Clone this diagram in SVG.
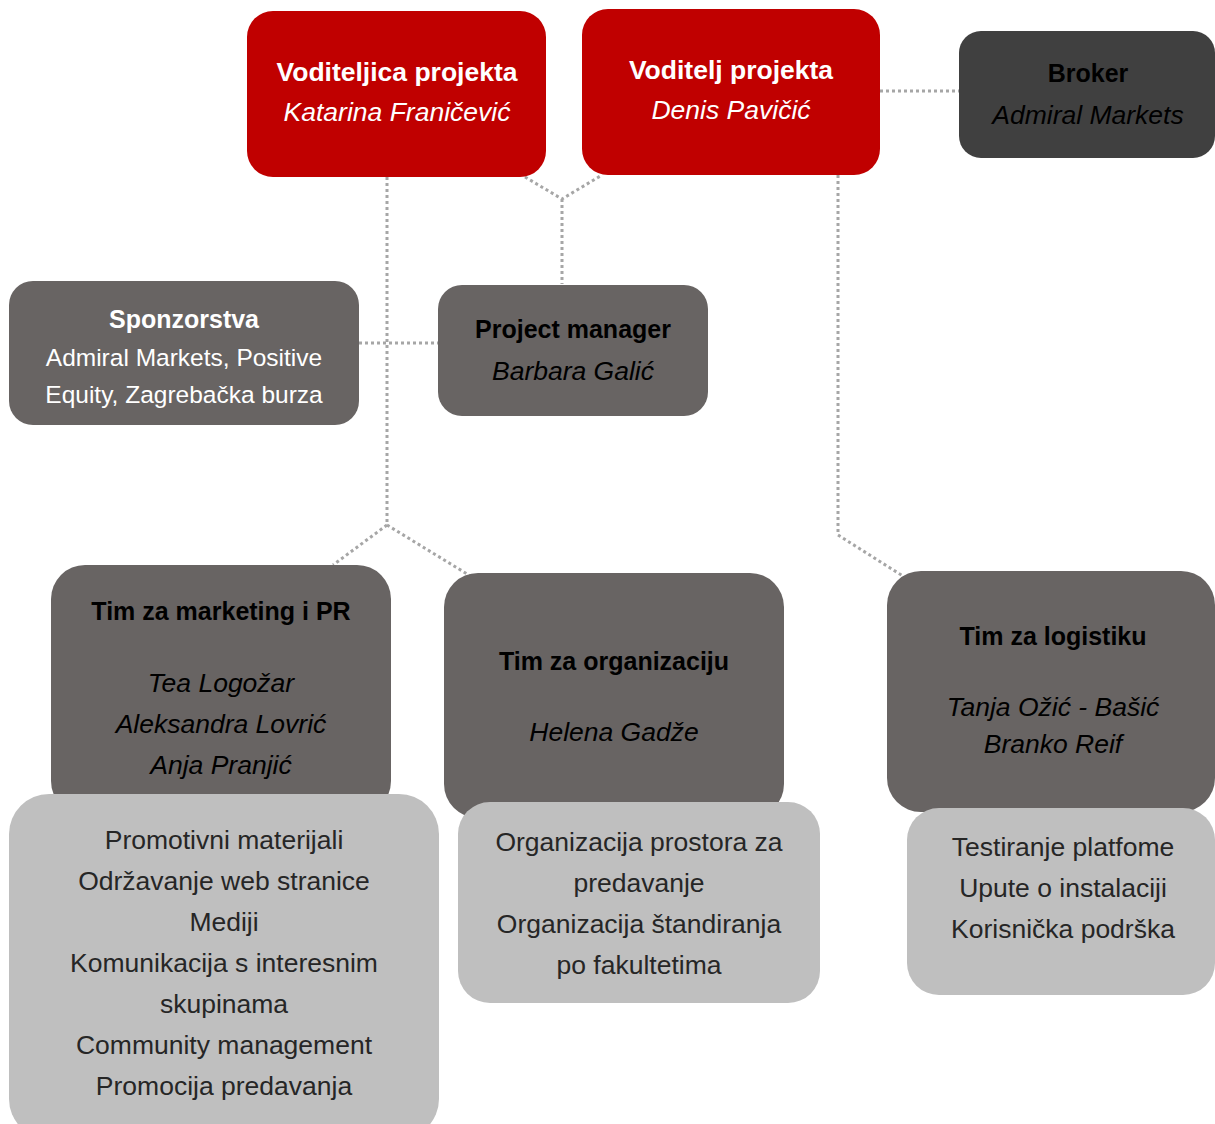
<svg xmlns="http://www.w3.org/2000/svg" width="1215" height="1124" viewBox="0 0 1215 1124">
<style>
.red{fill:#C00000}
.dark{fill:#404040}
.mid{fill:#686463}
.light{fill:#BFBFBF}
text{font-family:"Liberation Sans",Arial,sans-serif;text-anchor:middle}
.t{font-size:25px;font-weight:bold}
.tr{font-size:26.5px;font-weight:bold}
.i{font-size:26.5px;font-style:italic}
.r{font-size:26.5px}
.s{font-size:24.5px}
.w{fill:#FFFFFF}
.k{fill:#000000}
.g{fill:#262626}
.con{fill:none;stroke:#A6A6A6;stroke-width:3;stroke-dasharray:3 3}
</style>
<rect width="1215" height="1124" fill="#FFFFFF"/>
<g id="connectors">
<path class="con" d="M525 177 L562 199 L602 175 M562 199 L562 284"/>
<path class="con" d="M387 177 L387 525 L333 565 M387 525 L472 577"/>
<path class="con" d="M359 343 L438 343"/>
<path class="con" d="M880 91 L959 91"/>
<path class="con" d="M838 175 L838 535 L906 578"/>
</g>
<g id="voditeljica">
<rect class="red" x="247" y="11" width="299" height="166" rx="26"/>
<text class="tr w" x="397" y="81">Voditeljica projekta</text>
<text class="i w" x="397" y="121">Katarina Franičević</text>
</g>
<g id="voditelj">
<rect class="red" x="582" y="9" width="298" height="166" rx="26"/>
<text class="tr w" x="731" y="79">Voditelj projekta</text>
<text class="i w" x="731" y="119">Denis Pavičić</text>
</g>
<g id="broker">
<rect class="dark" x="959" y="31" width="256" height="127" rx="22"/>
<text class="t k" x="1088" y="82">Broker</text>
<text class="i k" x="1088" y="124">Admiral Markets</text>
</g>
<g id="sponzorstva">
<rect class="mid" x="9" y="281" width="350" height="144" rx="24"/>
<text class="t w" x="184" y="328">Sponzorstva</text>
<text class="s w" x="184" y="366">Admiral Markets, Positive</text>
<text class="s w" x="184" y="403">Equity, Zagrebačka burza</text>
</g>
<g id="project-manager">
<rect class="mid" x="438" y="285" width="270" height="131" rx="24"/>
<text class="t k" x="573" y="338">Project manager</text>
<text class="i k" x="573" y="380">Barbara Galić</text>
</g>
<g id="tim-marketing">
<rect class="mid" x="51" y="565" width="340" height="250" rx="34"/>
<text class="t k" x="221" y="620">Tim za marketing i PR</text>
<text class="i k" x="221" y="692">Tea Logožar</text>
<text class="i k" x="221" y="733">Aleksandra Lovrić</text>
<text class="i k" x="221" y="774">Anja Pranjić</text>
</g>
<g id="tim-organizacija">
<rect class="mid" x="444" y="573" width="340" height="245" rx="34"/>
<text class="t k" x="614" y="670">Tim za organizaciju</text>
<text class="i k" x="614" y="741">Helena Gadže</text>
</g>
<g id="tim-logistika">
<rect class="mid" x="887" y="571" width="328" height="241" rx="34"/>
<text class="t k" x="1053" y="645">Tim za logistiku</text>
<text class="i k" x="1053" y="716">Tanja Ožić - Bašić</text>
<text class="i k" x="1053" y="753">Branko Reif</text>
</g>
<g id="zadaci-marketing">
<rect class="light" x="9" y="794" width="430" height="345" rx="40"/>
<text class="r g" x="224" y="849">Promotivni materijali</text>
<text class="r g" x="224" y="890">Održavanje web stranice</text>
<text class="r g" x="224" y="931">Mediji</text>
<text class="r g" x="224" y="972">Komunikacija s interesnim</text>
<text class="r g" x="224" y="1013">skupinama</text>
<text class="r g" x="224" y="1054">Community management</text>
<text class="r g" x="224" y="1095">Promocija predavanja</text>
</g>
<g id="zadaci-organizacija">
<rect class="light" x="458" y="802" width="362" height="201" rx="32"/>
<text class="r g" x="639" y="851">Organizacija prostora za</text>
<text class="r g" x="639" y="892">predavanje</text>
<text class="r g" x="639" y="933">Organizacija štandiranja</text>
<text class="r g" x="639" y="974">po fakultetima</text>
</g>
<g id="zadaci-logistika">
<rect class="light" x="907" y="808" width="308" height="187" rx="32"/>
<text class="r g" x="1063" y="856">Testiranje platfome</text>
<text class="r g" x="1063" y="897">Upute o instalaciji</text>
<text class="r g" x="1063" y="938">Korisnička podrška</text>
</g>
</svg>
